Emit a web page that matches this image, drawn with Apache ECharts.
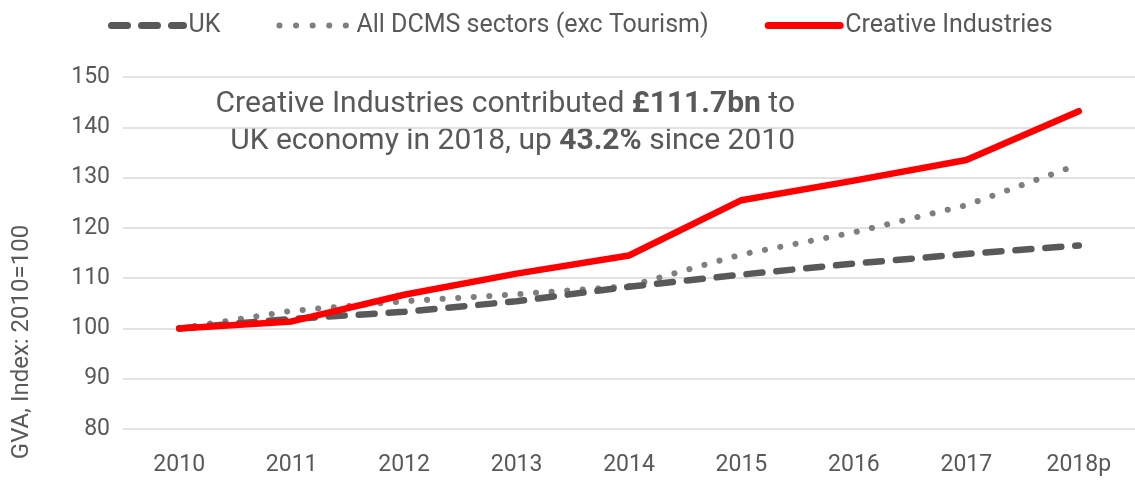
<!DOCTYPE html>
<html>
<head>
<meta charset="utf-8">
<script src="https://cdn.jsdelivr.net/npm/echarts@6/dist/echarts.min.js"></script>
<style>
html,body{margin:0;padding:0;background:#fff;}
#chart{width:1135px;height:480px;}
</style>
</head>
<body>
<div id="chart"></div>
<script>
const years = ['2010','2011','2012','2013','2014','2015','2016','2017','2018p'];
const ukValues = [100, 101.9, 103.3, 105.4, 108.3, 110.7, 112.9, 114.8, 116.5];
const dcmsValues = [100, 103.5, 105.4, 106.8, 108.4, 114.7, 119.1, 124.5, 132.6];
const creativeValues = [100, 101.4, 106.7, 110.9, 114.5, 125.5, 129.4, 133.5, 143.2];
const yTicks = [80, 90, 100, 110, 120, 130, 140, 150];
const seriesNames = ['UK', 'All DCMS sectors (exc Tourism)', 'Creative Industries'];

const FONT = 'Roboto, "Noto Sans", sans-serif';
const TXT = '#595959';
const UK_COLOR = '#595959', DCMS_COLOR = '#7f7f7f', CI_COLOR = '#ff0000';
const chart = echarts.init(document.getElementById('chart'));
chart.setOption({
  animation: false,
  backgroundColor: '#ffffff',
  textStyle: { fontFamily: FONT, color: TXT },
  legend: {
    left: 103, top: 8,
    itemWidth: 72, itemHeight: 14, itemGap: 56,
    itemStyle: { opacity: 0 },
    textStyle: { fontFamily: FONT, fontSize: 25, color: TXT },
    data: [
      { name: seriesNames[0], lineStyle: { color: UK_COLOR, width: 7, type: [16, 14], cap: 'round' }, itemStyle: { opacity: 0 } },
      { name: seriesNames[1], lineStyle: { color: DCMS_COLOR, width: 6, type: [0.1, 16.5], cap: 'round' }, itemStyle: { opacity: 0 } },
      { name: seriesNames[2], lineStyle: { color: CI_COLOR, width: 7, type: 'solid', cap: 'round' }, itemStyle: { opacity: 0 } }
    ]
  },
  grid: { left: 123, right: -10, top: 77, bottom: 51, containLabel: false },
  xAxis: {
    type: 'category', data: years, boundaryGap: true,
    axisLine: { show: false }, axisTick: { show: false },
    axisLabel: { fontFamily: FONT, fontSize: 23, color: TXT, margin: 25 }
  },
  yAxis: {
    type: 'value', min: yTicks[0], max: yTicks[yTicks.length-1], interval: 10,
    axisLine: { show: false }, axisTick: { show: false },
    axisLabel: { fontFamily: FONT, fontSize: 23, color: TXT, margin: 13 },
    splitLine: { lineStyle: { color: '#d9d9d9', width: 1.5 } }
  },
  graphic: [
    { type: 'text', rotation: Math.PI/2, x: 22, y: 342,
      style: { text: 'GVA, Index: 2010=100', fontFamily: FONT, fontSize: 24, fill: TXT, align: 'center', verticalAlign: 'middle' } },
    { type: 'text', x: 795, y: 104,
      style: { text: 'Creative Industries contributed {b|£111.7bn} to', fontFamily: FONT, fontSize: 30, fill: TXT, align: 'right', verticalAlign: 'middle',
        rich: { b: { fontFamily: FONT, fontSize: 30, fontWeight: 'bold', fill: TXT } } } },
    { type: 'text', x: 795, y: 141,
      style: { text: 'UK economy in 2018, up {b|43.2%} since 2010', fontFamily: FONT, fontSize: 30, fill: TXT, align: 'right', verticalAlign: 'middle',
        rich: { b: { fontFamily: FONT, fontSize: 30, fontWeight: 'bold', fill: TXT } } } }
  ],
  series: [
    { name: seriesNames[0], type: 'line', data: ukValues, symbol: 'none', z: 2,
      itemStyle: { color: UK_COLOR },
      lineStyle: { color: UK_COLOR, width: 6.5, type: [16, 14], cap: 'round' } },
    { name: seriesNames[1], type: 'line', data: dcmsValues, symbol: 'none', z: 1,
      itemStyle: { color: DCMS_COLOR },
      lineStyle: { color: DCMS_COLOR, width: 6, type: [0.1, 15.5], cap: 'round' } },
    { name: seriesNames[2], type: 'line', data: creativeValues, symbol: 'none', z: 3,
      itemStyle: { color: CI_COLOR },
      lineStyle: { color: CI_COLOR, width: 6.5, cap: 'round', join: 'round' } }
  ]
});
</script>
</body>
</html>
